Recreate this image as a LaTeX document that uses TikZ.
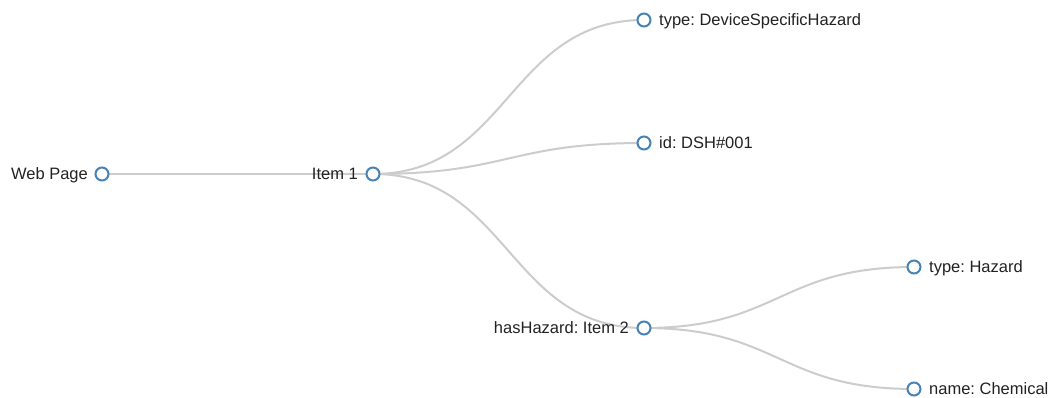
\documentclass[tikz,border=0pt]{standalone}
\usepackage{fontspec}
\setmainfont{Liberation Sans}
\frenchspacing
\usetikzlibrary{backgrounds}
\definecolor{linkgray}{HTML}{CCCCCC}
\definecolor{steel}{HTML}{4682B4}
\definecolor{txt}{HTML}{222222}
\begin{document}
\begin{tikzpicture}[x=1pt,y=-1pt,
  dot/.style={circle,draw=steel,fill=white,line width=2pt,minimum size=13pt,inner sep=0pt},
  lbl/.style={text=txt,font=\fontsize{16.5}{20}\selectfont,inner sep=0pt,text height=12pt,text depth=3.5pt},
  link/.style={draw=linkgray,line width=2pt}]
\useasboundingbox (0,0) rectangle (1051,398);
\node[dot] (web) at (102,174) {};
\node[dot] (item1) at (373,174) {};
\node[dot] (dsh) at (644,20) {};
\node[dot] (id) at (644,143) {};
\node[dot] (has) at (644,328) {};
\node[dot] (th) at (914,267) {};
\node[dot] (nc) at (914,389) {};
\node[lbl,anchor=east] (lweb) at (88,175) {Web Page};
\node[lbl,anchor=east] (litem1) at (358,175) {Item 1};
\node[lbl,anchor=west] (ldsh) at (659,21) {type: DeviceSpecificHazard};
\node[lbl,anchor=west] (lid) at (659,144) {id: DSH\#001};
\node[lbl,anchor=east] (lhas) at (629,329) {hasHazard: Item 2};
\node[lbl,anchor=west] (lth) at (929,268) {type: Hazard};
\node[lbl,anchor=west] (lnc) at (929,390) {name: Chemical};
\begin{scope}[on background layer]
\draw[link] (web.center) .. controls (237.5,174) and (237.5,174) .. (item1.center);
\draw[link] (item1.center) .. controls (508.5,174) and (508.5,20) .. (dsh.center);
\draw[link] (item1.center) .. controls (508.5,174) and (508.5,143) .. (id.center);
\draw[link] (item1.center) .. controls (508.5,174) and (508.5,328) .. (has.center);
\draw[link] (has.center) .. controls (779,328) and (779,267) .. (th.center);
\draw[link] (has.center) .. controls (779,328) and (779,389) .. (nc.center);
\end{scope}
\end{tikzpicture}
\end{document}
